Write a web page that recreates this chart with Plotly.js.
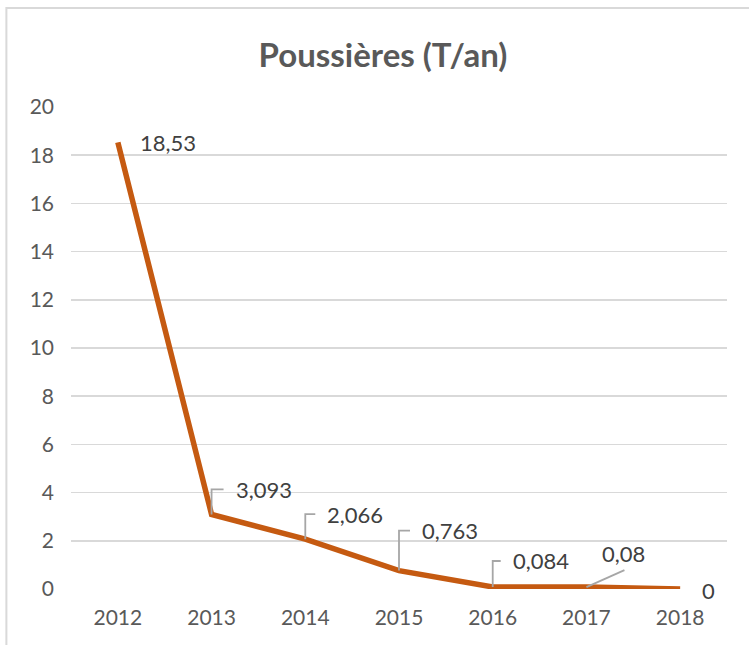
<!DOCTYPE html>
<html>
<head>
<meta charset="utf-8">
<script src="https://cdn.plot.ly/plotly-3.0.1.min.js"></script>
<style>
  html, body { margin: 0; padding: 0; background: #ffffff; }
  #chart { width: 749px; height: 645px; }
</style>
</head>
<body>
<div id="chart"></div>
<script>
// Data
var years = ['2012', '2013', '2014', '2015', '2016', '2017', '2018'];
var values = [18.53, 3.093, 2.066, 0.763, 0.084, 0.08, 0];
var yTicks = [0, 2, 4, 6, 8, 10, 12, 14, 16, 18, 20];
var chartTitle = 'Poussières (T/an)';

// Label placement (pixel offsets relative to each point, y up)
var labelStyle = [
  {dx: 20, dy: 0, leader: null},
  {dx: 22, dy: 25, leader: 'elbow'},
  {dx: 20, dy: 25, leader: 'elbow'},
  {dx: 21, dy: 40, leader: 'elbow'},
  {dx: 18, dy: 26, leader: 'elbow'},
  {dx: 16, dy: 34, leader: 'diag'},
  {dx: 20, dy: -1, leader: null}
];

var fontFamily = 'Lato, "Open Sans", sans-serif';
var textGrey = '#595959';
var labelGrey = '#404040';
var leaderGrey = '#a6a6a6';

var annotations = [];
var shapes = [];

years.forEach(function (yr, i) {
  var st = labelStyle[i];
  var txt = String(values[i]).replace('.', ',');
  // category axis: position by category index
  var xi = i;
  if (st.leader === 'diag') {
    annotations.push({
      x: xi, y: values[i], xref: 'x', yref: 'y',
      text: txt, showarrow: false,
      xanchor: 'center', yanchor: 'middle',
      xshift: st.dx + 21, yshift: st.dy,
      font: {family: fontFamily, size: 22, color: labelGrey}
    });
    shapes.push({
      type: 'path', xref: 'x', yref: 'y',
      xsizemode: 'pixel', ysizemode: 'pixel',
      xanchor: xi, yanchor: values[i],
      path: 'M 0 0 L 38 17',
      line: {color: leaderGrey, width: 1.8},
      layer: 'above'
    });
  } else {
    annotations.push({
      x: xi, y: values[i], xref: 'x', yref: 'y',
      text: txt, showarrow: false,
      xanchor: 'left', yanchor: 'middle',
      xshift: st.dx, yshift: st.dy,
      font: {family: fontFamily, size: 22, color: labelGrey}
    });
    if (st.leader === 'elbow') {
      shapes.push({
        type: 'path', xref: 'x', yref: 'y',
        xsizemode: 'pixel', ysizemode: 'pixel',
        xanchor: xi, yanchor: values[i],
        path: 'M 0 0 L 0 ' + st.dy + ' L ' + (st.dx - 10) + ' ' + st.dy,
        line: {color: leaderGrey, width: 1.8},
        layer: 'above'
      });
    }
  }
});

// outer chart border (left and top visible)
shapes.push({
  type: 'path', xref: 'paper', yref: 'paper',
  path: 'M -0.0985 -0.2 L -0.0985 1.2054 L 1.2 1.2054',
  line: {color: '#d9d9d9', width: 2},
  layer: 'below'
});

var trace = {
  x: years,
  y: values,
  type: 'scatter',
  mode: 'lines',
  line: {color: '#C55A11', width: 5.5},
  hoverinfo: 'skip',
  cliponaxis: false
};

var layout = {
  width: 749,
  height: 645,
  margin: {l: 71, r: 22, t: 107, b: 56},
  paper_bgcolor: '#ffffff',
  plot_bgcolor: '#ffffff',
  showlegend: false,
  title: {
    text: '<b>' + chartTitle + '</b>',
    x: 383 / 749, xanchor: 'center', xref: 'container',
    y: 1 - 55 / 645, yanchor: 'middle', yref: 'container',
    font: {family: fontFamily, size: 33, color: textGrey}
  },
  xaxis: {
    type: 'category',
    range: [-0.5, 6.5],
    showgrid: false,
    zeroline: false,
    showline: false,
    ticks: '',
    ticklabelstandoff: 14,
    tickfont: {family: fontFamily, size: 21, color: textGrey}
  },
  yaxis: {
    range: [0, 20],
    tickvals: yTicks,
    ticktext: yTicks.map(String),
    showgrid: true,
    gridcolor: '#d9d9d9',
    gridwidth: 1.5,
    zeroline: false,
    showline: false,
    ticks: '',
    ticklabelstandoff: 16,
    tickfont: {family: fontFamily, size: 21, color: textGrey}
  },
  annotations: annotations,
  shapes: shapes
};

Plotly.newPlot('chart', [trace], layout, {staticPlot: true, displayModeBar: false});
</script>
</body>
</html>
